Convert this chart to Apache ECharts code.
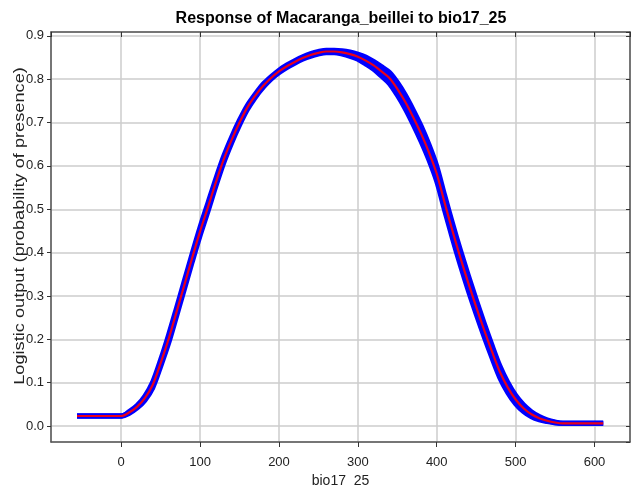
<!DOCTYPE html>
<html>
<head>
<meta charset="utf-8">
<script src="https://cdn.jsdelivr.net/npm/echarts@6/dist/echarts.min.js"></script>
<style>
html,body{margin:0;padding:0;background:#fff;}
#c{width:632px;height:487px;}
</style>
</head>
<body>
<div id="c"></div>
<script>
// Data
var xVals = [-56,0,10,20,30,40,50,60,70,80,90,100,110,120,130,140,150,160,170,180,190,200,210,220,230,240,250,260,270,280,290,300,310,320,330,340,350,360,370,380,390,400,410,420,430,440,450,460,470,480,490,500,510,520,530,540,550,560,611];
var meanVals = [0.023,0.023,0.031,0.044,0.064,0.095,0.145,0.200,0.262,0.325,0.388,0.449,0.505,0.562,0.615,0.660,0.700,0.735,0.762,0.785,0.803,0.818,0.830,0.840,0.849,0.856,0.861,0.864,0.864,0.862,0.858,0.852,0.843,0.832,0.818,0.803,0.778,0.748,0.713,0.675,0.632,0.582,0.515,0.450,0.388,0.330,0.275,0.222,0.172,0.125,0.089,0.061,0.041,0.027,0.018,0.012,0.008,0.006,0.006];
var upperVals = [0.023,0.023,0.033,0.047,0.069,0.102,0.153,0.210,0.272,0.335,0.398,0.459,0.515,0.571,0.623,0.667,0.706,0.740,0.766,0.789,0.806,0.821,0.833,0.843,0.852,0.859,0.864,0.867,0.867,0.866,0.863,0.858,0.851,0.841,0.829,0.816,0.793,0.764,0.730,0.693,0.650,0.600,0.533,0.468,0.406,0.348,0.292,0.238,0.187,0.139,0.101,0.071,0.049,0.033,0.022,0.014,0.009,0.006,0.006];
var lowerVals = [0.023,0.023,0.029,0.041,0.059,0.088,0.137,0.190,0.252,0.315,0.378,0.439,0.495,0.553,0.607,0.653,0.694,0.730,0.758,0.781,0.800,0.815,0.827,0.837,0.846,0.853,0.858,0.861,0.861,0.858,0.853,0.846,0.835,0.823,0.807,0.790,0.763,0.732,0.696,0.657,0.614,0.564,0.497,0.432,0.370,0.312,0.258,0.206,0.157,0.111,0.077,0.051,0.033,0.021,0.014,0.010,0.007,0.006,0.006];

var titleText = 'Response of Macaranga_beillei to bio17_25';
var xName = 'bio17_25';
var yName = 'Logistic output (probability of presence)';

function pairs(ys){ return xVals.map(function(x,i){ return [x, ys[i]]; }); }

var FONT = 'Liberation Sans';
var gridColor = '#cccccc';
var axisColor = '#555555';
var labelColor = '#222222';

var chart = echarts.init(document.getElementById('c'), null, {renderer:'canvas'});
var xBase = { type:'value', min:-89, max:645, splitNumber:7 };
var yBase = { type:'value', min:-0.037, max:0.909, splitNumber:9 };
function lineSeries(ys, color, width, z){
  return {type:'line', data:pairs(ys), showSymbol:false, smooth:0.3,
    lineStyle:{color:color, width:width, cap:'butt', join:'round'}, silent:true, z:z};
}
chart.setOption({
  animation:false,
  backgroundColor:'#ffffff',
  title:{
    text:titleText, left:336, top:6, textAlign:'center',
    textStyle:{fontFamily:FONT, fontSize:16, fontWeight:'bold', color:'#000'}
  },
  grid:{left:51, right:2, top:32, bottom:45, containLabel:false, outerBoundsMode:'none'},
  graphic:[{
    type:'text', x:20, y:226, rotation:Math.PI/2, scaleX:1.3, silent:true,
    style:{text:yName, fontFamily:FONT, fontSize:14, fill:labelColor, align:'center', verticalAlign:'middle'}
  }],
  xAxis:[
    Object.assign({}, xBase, {
      position:'bottom', name:xName, nameLocation:'middle', nameGap:31,
      nameTextStyle:{fontFamily:FONT, fontSize:14, color:labelColor},
      axisLine:{show:true, onZero:false, lineStyle:{color:axisColor, width:1.5}},
      axisTick:{show:true, inside:false, length:5, lineStyle:{color:'#333', width:1}},
      axisLabel:{show:true, showMinLabel:false, showMaxLabel:false, margin:14, fontFamily:FONT, fontSize:13, color:labelColor},
      splitLine:{show:true, lineStyle:{color:gridColor, width:1.5}}
    }),
    Object.assign({}, xBase, {
      position:'top',
      axisLine:{show:true, onZero:false, lineStyle:{color:axisColor, width:1.5}},
      axisTick:{show:true, inside:true, length:5, lineStyle:{color:'#333', width:1}},
      axisLabel:{show:false},
      splitLine:{show:false}
    })
  ],
  yAxis:[
    Object.assign({}, yBase, {
      position:'left',
      axisLine:{show:true, onZero:false, lineStyle:{color:axisColor, width:1.5}},
      axisTick:{show:true, inside:false, length:4, lineStyle:{color:'#333', width:1}},
      axisLabel:{show:true, showMinLabel:false, showMaxLabel:false, margin:7, fontFamily:FONT, fontSize:13, color:labelColor,
        formatter:function(v){ return v.toFixed(1); }},
      splitLine:{show:true, lineStyle:{color:gridColor, width:1.5}}
    }),
    Object.assign({}, yBase, {
      position:'right',
      axisLine:{show:true, onZero:false, lineStyle:{color:axisColor, width:1.5}},
      axisTick:{show:true, inside:true, length:4, lineStyle:{color:'#333', width:1}},
      axisLabel:{show:false},
      splitLine:{show:false}
    })
  ],
  series:[
    lineSeries(upperVals, '#0000ff', 5, 2),
    lineSeries(lowerVals, '#0000ff', 5, 2),
    lineSeries(meanVals, '#0000ff', 5, 2),
    lineSeries(meanVals, '#e8001a', 2.2, 3)
  ]
});
</script>
</body>
</html>
